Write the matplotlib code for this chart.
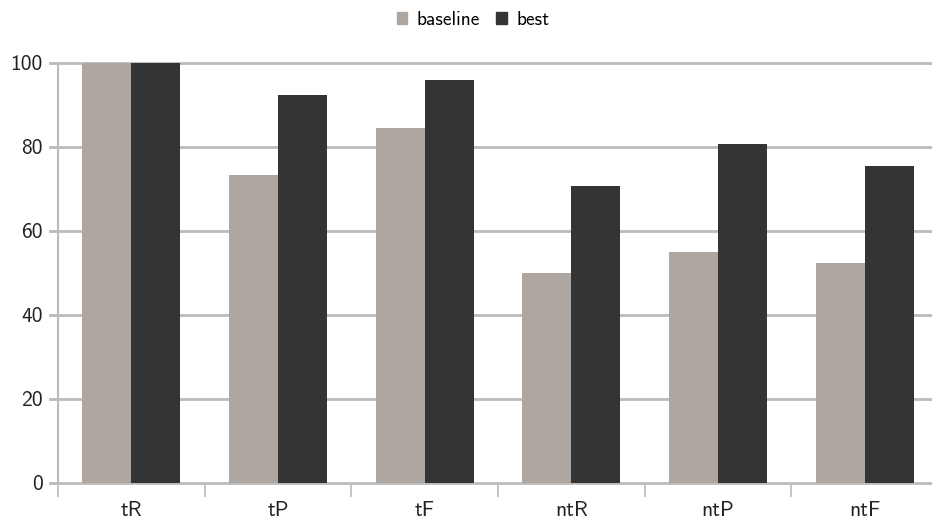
import numpy as np
import matplotlib.pyplot as plt
from matplotlib.patches import Patch

categories = ['tR', 'tP', 'tF', 'ntR', 'ntP', 'ntF']
baseline = [100.0, 73.3, 84.5, 50.0, 55.0, 52.4]
best = [100.0, 92.4, 96.0, 70.7, 80.7, 75.5]
yticks = [0, 20, 40, 60, 80, 100]

plt.rcParams['font.family'] = ['cmss10', 'DejaVu Sans']
plt.rcParams['axes.unicode_minus'] = False

grey = '#aea6a0'
dark = '#343434'
line_col = '#bbbbbb'

W, H = 932, 521
fig = plt.figure(figsize=(W / 100, H / 100), dpi=100)
# plot area in pixels: x 58..938 (slightly past the right edge), y 63..483
ax = fig.add_axes([58 / W, (H - 483) / H, (938 - 58) / W, (483 - 63) / H])

x = np.arange(len(categories))
w = 0.333
ax.bar(x - w / 2, baseline, w, color=grey, zorder=3)
ax.bar(x + w / 2, best, w, color=dark, zorder=3)

ax.set_xlim(-0.5, len(categories) - 0.5)
ax.set_ylim(0, 100)
for s in ['top', 'right', 'bottom']:
    ax.spines[s].set_visible(False)
ax.spines['left'].set_color(line_col)
ax.spines['left'].set_linewidth(1.5)

# horizontal grid, drawn from the tick stubs across to the right
for v in yticks:
    ax.axhline(v, color=line_col, lw=2, zorder=1, clip_on=False, xmin=-8 / 880)

ax.set_yticks(yticks)
ax.set_yticklabels([str(v) for v in yticks])
ax.tick_params(axis='y', length=0, pad=11, labelsize=15.5, labelcolor='#222222')

# category separators below the axis
ax.set_xticks(np.arange(len(categories) + 1) - 0.5, minor=False)
ax.set_xticklabels([''] * (len(categories) + 1))
ax.tick_params(axis='x', which='major', length=10, width=1.2, color=line_col, direction='out')
ax.set_xticks(x, minor=True)
ax.set_xticklabels(categories, minor=True)
ax.tick_params(axis='x', which='minor', length=0, pad=13, labelsize=15.5, labelcolor='#222222')

handles = [Patch(color=grey, label='baseline'), Patch(color=dark, label='best')]
fig.legend(handles=handles, loc='center', bbox_to_anchor=(473 / W, 1 - 20 / H), ncol=2,
           frameon=False, fontsize=14, handlelength=0.55, handleheight=0.55,
           handletextpad=0.5, columnspacing=0.8)

fig.savefig('out.png', dpi=100)
